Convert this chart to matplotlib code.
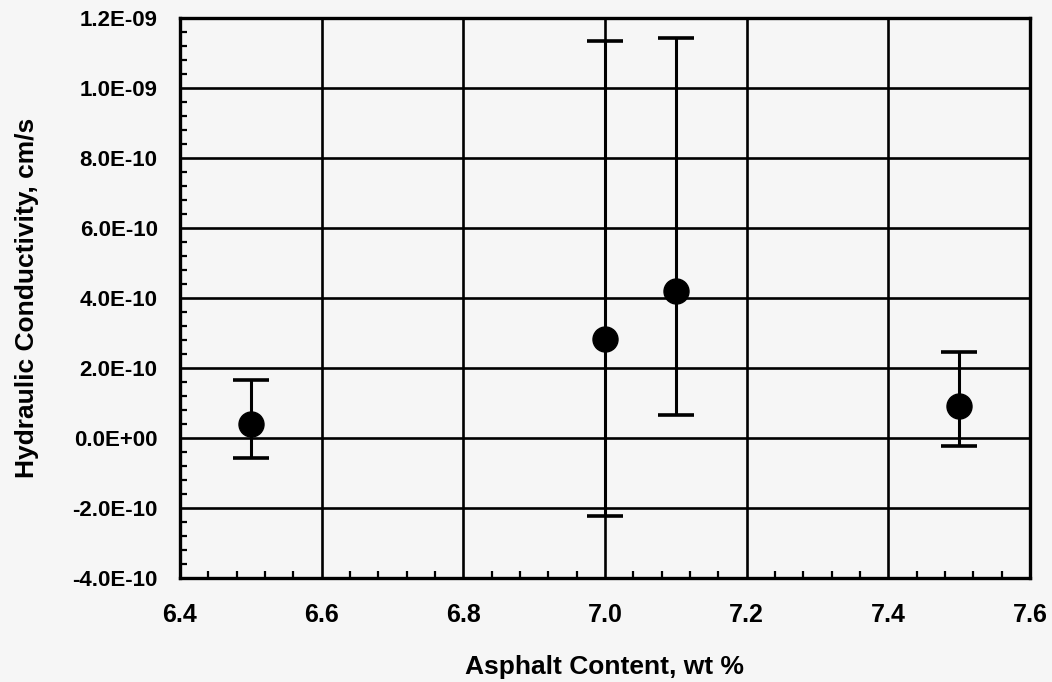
import matplotlib
matplotlib.use('Agg')
import matplotlib.pyplot as plt
from matplotlib.ticker import MultipleLocator, FuncFormatter

# asphalt content (wt %) and measured hydraulic conductivity (cm/s)
asphalt = [6.5, 7.0, 7.1, 7.5]
k_mean = [0.40e-10, 2.82e-10, 4.20e-10, 0.92e-10]
k_low = [-0.57e-10, -2.22e-10, 0.67e-10, -0.22e-10]
k_high = [1.66e-10, 11.34e-10, 11.42e-10, 2.46e-10]

plt.rcParams['font.family'] = ['Liberation Sans', 'DejaVu Sans']
plt.rcParams['font.weight'] = 'bold'

bg = '#f6f6f6'
fig = plt.figure(figsize=(10.52, 6.82), dpi=100, facecolor=bg)
ax = fig.add_axes([0.171, 0.152, 0.808, 0.822], facecolor=bg)

err = [[m - lo for m, lo in zip(k_mean, k_low)],
       [hi - m for m, hi in zip(k_mean, k_high)]]
ax.errorbar(asphalt, k_mean, yerr=err, fmt='o', color='black',
            markersize=18, elinewidth=2.2, capsize=13, capthick=2.6, zorder=3)

ax.set_xlim(6.4, 7.6)
ax.set_ylim(-4e-10, 1.2e-9)
ax.xaxis.set_major_locator(MultipleLocator(0.2))
ax.xaxis.set_minor_locator(MultipleLocator(0.04))
ax.yaxis.set_major_locator(MultipleLocator(2e-10))
ax.yaxis.set_minor_locator(MultipleLocator(0.4e-10))
ax.yaxis.set_major_formatter(FuncFormatter(lambda v, p: '{:.1E}'.format(v)))
ax.xaxis.set_major_formatter(FuncFormatter(lambda v, p: '{:.1f}'.format(v)))

ax.grid(True, which='major', color='black', linewidth=1.9)
ax.set_axisbelow(True)
for s in ax.spines.values():
    s.set_linewidth(2.4)

ax.tick_params(which='major', length=0)
ax.tick_params(axis='x', which='major', pad=18, labelsize=18)
ax.tick_params(axis='y', which='major', pad=16, labelsize=16)
ax.tick_params(which='minor', direction='in', length=5, width=1.6,
               top=False, right=False)
for lab in ax.get_xticklabels() + ax.get_yticklabels():
    lab.set_fontweight('bold')

ax.set_xlabel('Asphalt Content, wt %', fontsize=19, fontweight='bold', labelpad=20)
ax.set_ylabel('Hydraulic Conductivity, cm/s', fontsize=19, fontweight='bold', labelpad=24)

fig.savefig('out.png', dpi=100, facecolor=bg)
